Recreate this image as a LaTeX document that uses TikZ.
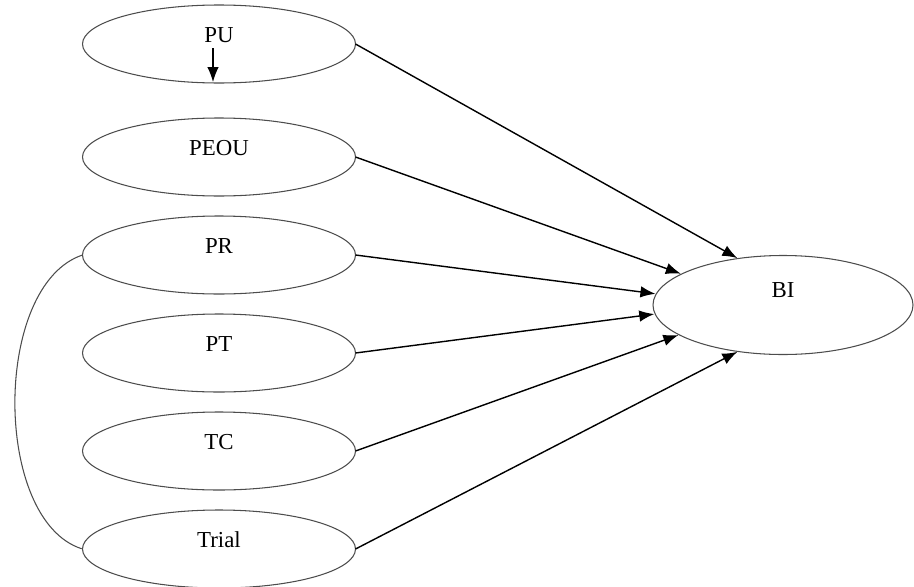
\documentclass[tikz,border=0pt]{standalone}
\usepackage{fontspec}
\setmainfont{Liberation Serif}
\usepackage{tikz}
\usetikzlibrary{arrows.meta, positioning, shapes.geometric}

\begin{document}
\begin{tikzpicture}[shorten >=0.5pt,node distance=1.96cm,on grid,auto]
    \tikzstyle{construct}=[shape=ellipse,draw=black!70,line width=0.6pt,minimum width=5.46cm,minimum height=1.56cm,inner sep=0pt,outer sep=0pt]
    \tikzstyle{outcome}=[construct,minimum width=5.2cm,minimum height=1.98cm]
    \tikzstyle{lbl}=[font=\fontsize{13}{15}\selectfont,yshift=0.18cm]
    \tikzstyle{link}=[-{Latex[length=3mm,width=2.3mm]},draw,line width=0.8pt]

    \useasboundingbox (0,0) rectangle (18.28,-11.72);

    \node[construct, label={[lbl]center:PU}] (PU) at (4.38,-0.88) {};
    \node[construct, label={[lbl]center:PEOU}, below=2.26cm of PU] (PEOU) {};
    \node[construct, label={[lbl]center:PR}, below of=PEOU] (PR) {};
    \node[construct, label={[lbl]center:PT}, below of=PR] (PT) {};
    \node[construct, label={[lbl]center:TC}, below of=PT] (TC) {};
    \node[construct, label={[lbl]center:Trial}, below of=TC] (Trial) {};
    \node[outcome, label={[lbl,yshift=0.12cm]center:BI}] (BI) at (15.66,-6.1) {};

    \path
    (PU.east) edge[link] (BI.134)
    (PEOU.east) edge[link] (BI.163)
    (PR.east) edge[link] (BI.175)
    (PT.east) edge[link] (BI.184)
    (TC.east) edge[link] (BI.196)
    (Trial.east) edge[link] (BI.226)
    ([xshift=-0.12cm,yshift=-0.08cm]PU.center) edge[link] ([xshift=-0.12cm]PU.south)
    ;

    \draw[black!70, line width=0.6pt] (PR.west) .. controls (-0.15,-5.7) and (-0.15,-10.4) .. (Trial.west);
  \end{tikzpicture}
\end{document}
